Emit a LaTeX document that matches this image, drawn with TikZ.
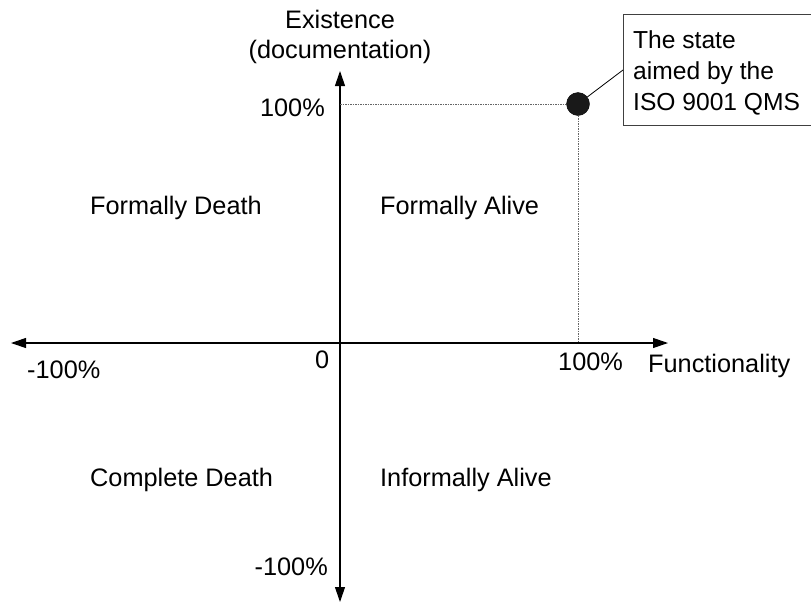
\documentclass[tikz,border=0pt]{standalone}
\usepackage{fontspec}
\setmainfont{Liberation Sans}
\usetikzlibrary{arrows.meta}
\begin{document}
\begin{tikzpicture}[x=1pt,y=-1pt,
  lbl/.style={anchor=base west,inner sep=0pt,font=\fontsize{25.3}{31}\selectfont},
  axis/.style={line width=1.1pt,{Triangle[length=15pt,width=10pt]}-{Triangle[length=15pt,width=10pt]}},
  guide/.style={gray!80!black,line width=0.9pt,dash pattern=on 1.5pt off 1pt},
  callout/.style={draw=black!75,line width=1pt,inner sep=0pt}]
\useasboundingbox (0,0) rectangle (811,603);
\clip (0,0) rectangle (811,603);
% axis ends
\coordinate (ytop) at (340,71);
\coordinate (ybot) at (340,602);
\coordinate (xl) at (11,343);
\coordinate (xr) at (668,343);
\coordinate (y100) at (340,104);
\coordinate (x100) at (578,343);
\draw[axis] (ybot) -- (ytop);
\draw[axis] (xl) -- (xr);
% target point
\node[circle,fill=black!90,draw=black,minimum size=23pt,inner sep=0pt] (dot) at (578,104) {};
\draw[guide] (y100) -- (dot.west);
\draw[guide] (dot.south) -- (x100);
% callout box
\node[callout,anchor=north west,minimum width=200pt,minimum height=111pt] (box) at (623,14) {};
\draw[line width=0.8pt] (dot) -- (box.west);
\node[lbl,font=\fontsize{24.6}{31}\selectfont] (t1) at (633,48) {The state};
\node[lbl,font=\fontsize{24.6}{31}\selectfont] (t2) at (633,79) {aimed by the};
\node[lbl,font=\fontsize{24.6}{31}\selectfont] (t3) at (633,110) {ISO 9001 QMS};
% axis titles
\node[lbl,anchor=base] (ex1) at (340,28) {Existence};
\node[lbl,anchor=base] (ex2) at (340,58) {(documentation)};
\node[lbl,anchor=base east] (yp) at (325,116) {100\%};
\node[lbl,anchor=base east] (yn) at (328,575) {-100\%};
\node[lbl] (zero) at (315,368) {0};
\node[lbl] (xn) at (27,378) {-100\%};
\node[lbl] (xp) at (558,370) {100\%};
\node[lbl] (fun) at (648,372) {Functionality};
% quadrant labels
\node[lbl] (fd) at (90,214) {Formally Death};
\node[lbl] (fa) at (380,214) {Formally Alive};
\node[lbl] (cd) at (90,486) {Complete Death};
\node[lbl] (ia) at (380,486) {Informally Alive};
\end{tikzpicture}
\end{document}
